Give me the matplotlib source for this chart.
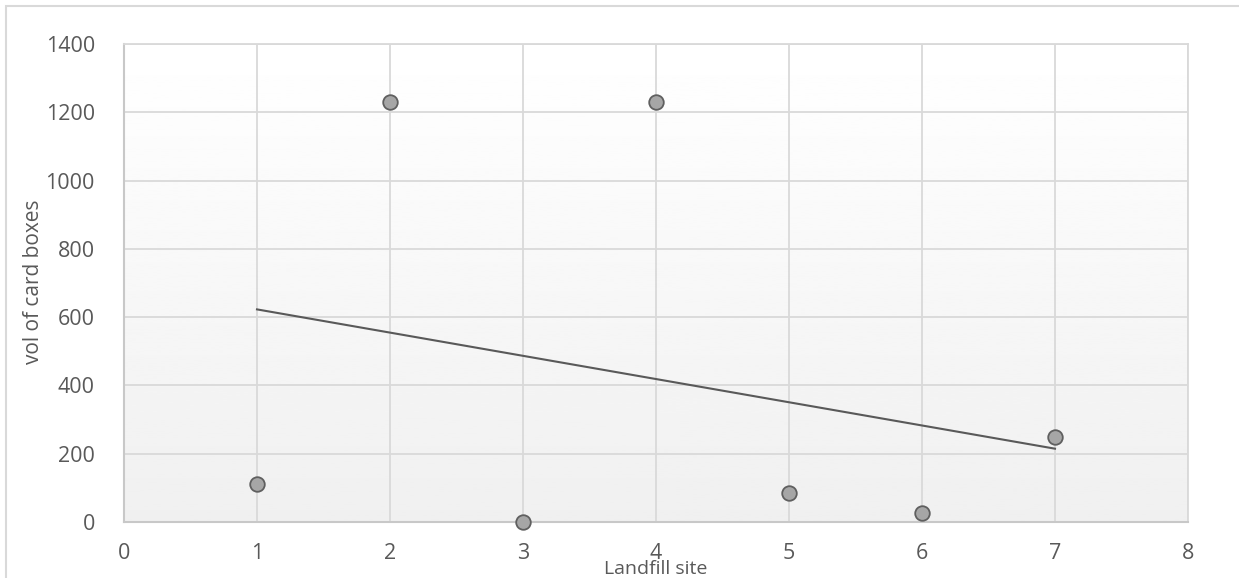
import numpy as np
import matplotlib
matplotlib.use("Agg")
import matplotlib.pyplot as plt
from matplotlib.patches import Rectangle

plt.rcParams['font.family'] = ['Open Sans', 'DejaVu Sans']

# landfill site number vs volume of card boxes
sites = [1, 2, 3, 4, 5, 6, 7]
volume = [110, 1230, 0, 1230, 86, 25, 250]

xticks = [0, 1, 2, 3, 4, 5, 6, 7, 8]
yticks = [0, 200, 400, 600, 800, 1000, 1200, 1400]

txt = '#595959'
grid = '#d9d9d9'

fig = plt.figure(figsize=(12.39, 5.78), dpi=100)
ax = fig.add_axes([124 / 1239, 1 - 522 / 578, (1188 - 124) / 1239, (522 - 44) / 578])

# soft vertical gradient behind the plot area
grad = np.linspace(1.0, 0.94, 256).reshape(-1, 1)
ax.imshow(grad, cmap='gray', vmin=0, vmax=1, aspect='auto',
          extent=[0, 1, 0, 1], transform=ax.transAxes, zorder=0)

ax.set_xlim(0, 8)
ax.set_ylim(0, 1400)
ax.set_xticks(xticks)
ax.set_yticks(yticks)
ax.grid(True, color=grid, linewidth=1.3, zorder=1)
ax.set_axisbelow(True)
for s in ['top', 'right']:
    ax.spines[s].set_color(grid)
    ax.spines[s].set_linewidth(1.3)
for s in ['left', 'bottom']:
    ax.spines[s].set_color('#c8c8c8')
    ax.spines[s].set_linewidth(1.5)
ax.tick_params(length=0, labelsize=15.5, labelcolor=txt)
ax.tick_params(axis='x', pad=15)
ax.tick_params(axis='y', pad=21)

# linear trend line over the site range
k, b = np.polyfit(sites, volume, 1)
xs = np.array([sites[0], sites[-1]])
ax.plot(xs, k * xs + b, color='#595959', linewidth=1.5, zorder=3)

ax.scatter(sites, volume, s=110, color='#a6a6a6', edgecolor='#5f5f5f',
           linewidth=1.3, zorder=4, clip_on=False)

fig.text(656 / 1239, 1 - 569 / 578, 'Landfill site', ha='center', va='center',
         fontsize=14, color=txt)
fig.text(34 / 1239, 1 - 282 / 578, 'vol of card boxes', ha='center', va='center',
         rotation=90, fontsize=15, color=txt)

# chart frame
fig.patches.append(Rectangle((6 / 1239, -0.1), 1.2, 1 - 6 / 578 + 0.1,
                             transform=fig.transFigure, fill=False,
                             edgecolor=grid, linewidth=1.5))

fig.savefig('out.png', dpi=100)
